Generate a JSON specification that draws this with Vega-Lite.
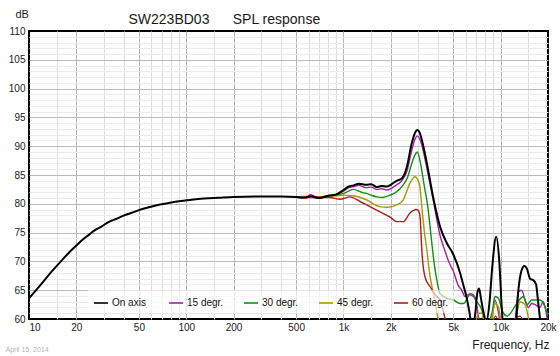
{
  "$schema": "https://vega.github.io/schema/vega-lite/v6.json",
  "width": 519,
  "height": 288,
  "autosize": "none",
  "padding": {"left": 29, "top": 31, "right": 12, "bottom": 37},
  "config": {
    "font": "Liberation Sans",
    "view": {"stroke": "#000000", "strokeWidth": 2}
  },
  "datasets": {
    "spl": [
      {"f":10,"db":63.6,"s":"On axis"},{"f":12,"db":66.1,"s":"On axis"},{"f":14,"db":68.3,"s":"On axis"},{"f":16,"db":70.05,"s":"On axis"},{"f":18,"db":71.55,"s":"On axis"},{"f":20,"db":72.75,"s":"On axis"},{"f":22,"db":73.8,"s":"On axis"},{"f":24,"db":74.6,"s":"On axis"},{"f":26,"db":75.35,"s":"On axis"},{"f":29,"db":76.1,"s":"On axis"},{"f":32,"db":76.8,"s":"On axis"},{"f":36,"db":77.4,"s":"On axis"},{"f":40,"db":77.95,"s":"On axis"},{"f":45,"db":78.45,"s":"On axis"},{"f":50,"db":78.9,"s":"On axis"},{"f":57,"db":79.35,"s":"On axis"},{"f":65,"db":79.75,"s":"On axis"},{"f":76,"db":80.1,"s":"On axis"},{"f":90,"db":80.45,"s":"On axis"},{"f":108,"db":80.7,"s":"On axis"},{"f":130,"db":80.9,"s":"On axis"},{"f":160,"db":81.05,"s":"On axis"},{"f":200,"db":81.2,"s":"On axis"},{"f":300,"db":81.25,"s":"On axis"},{"f":400,"db":81.25,"s":"On axis"},{"f":500,"db":81.2,"s":"On axis"},{"f":560,"db":81.1,"s":"On axis"},{"f":620,"db":81.3,"s":"On axis"},{"f":700,"db":81.0,"s":"On axis"},{"f":800,"db":81.4,"s":"On axis"},{"f":900,"db":81.6,"s":"On axis"},{"f":1000,"db":82.4,"s":"On axis"},{"f":1080,"db":83.0,"s":"On axis"},{"f":1160,"db":83.2,"s":"On axis"},{"f":1250,"db":83.5,"s":"On axis"},{"f":1400,"db":83.3,"s":"On axis"},{"f":1500,"db":83.4,"s":"On axis"},{"f":1630,"db":82.9,"s":"On axis"},{"f":1750,"db":83.1,"s":"On axis"},{"f":1890,"db":83.0,"s":"On axis"},{"f":2050,"db":83.5,"s":"On axis"},{"f":2180,"db":84.0,"s":"On axis"},{"f":2350,"db":84.4,"s":"On axis"},{"f":2530,"db":86.4,"s":"On axis"},{"f":2720,"db":90.5,"s":"On axis"},{"f":2850,"db":92.3,"s":"On axis"},{"f":2950,"db":92.8,"s":"On axis"},{"f":3050,"db":92.4,"s":"On axis"},{"f":3150,"db":91.1,"s":"On axis"},{"f":3390,"db":87.1,"s":"On axis"},{"f":3730,"db":81.0,"s":"On axis"},{"f":4120,"db":76.0,"s":"On axis"},{"f":4540,"db":73.2,"s":"On axis"},{"f":5000,"db":71.2,"s":"On axis"},{"f":5520,"db":68.0,"s":"On axis"},{"f":5800,"db":65.8,"s":"On axis"},{"f":6100,"db":63.5,"s":"On axis"},{"f":6300,"db":61.5,"s":"On axis"},{"f":6600,"db":58.5,"s":"On axis"},{"f":6900,"db":61.0,"s":"On axis"},{"f":7100,"db":64.5,"s":"On axis"},{"f":7290,"db":65.3,"s":"On axis"},{"f":7500,"db":63.5,"s":"On axis"},{"f":7800,"db":61.0,"s":"On axis"},{"f":8100,"db":59.5,"s":"On axis"},{"f":8500,"db":63.0,"s":"On axis"},{"f":8840,"db":69.0,"s":"On axis"},{"f":9360,"db":74.3,"s":"On axis"},{"f":9800,"db":70.0,"s":"On axis"},{"f":10160,"db":62.0,"s":"On axis"},{"f":10500,"db":57.0,"s":"On axis"},{"f":11500,"db":55.0,"s":"On axis"},{"f":12400,"db":58.0,"s":"On axis"},{"f":12960,"db":65.0,"s":"On axis"},{"f":13600,"db":68.5,"s":"On axis"},{"f":14150,"db":69.2,"s":"On axis"},{"f":14700,"db":68.7,"s":"On axis"},{"f":15380,"db":67.0,"s":"On axis"},{"f":16200,"db":66.7,"s":"On axis"},{"f":16800,"db":66.0,"s":"On axis"},{"f":17300,"db":63.0,"s":"On axis"},{"f":18000,"db":59.0,"s":"On axis"},{"f":19000,"db":56.0,"s":"On axis"},{"f":20000,"db":55.0,"s":"On axis"},

      {"f":500,"db":81.2,"s":"15 degr."},{"f":600,"db":81.1,"s":"15 degr."},{"f":700,"db":81.1,"s":"15 degr."},{"f":800,"db":81.4,"s":"15 degr."},{"f":900,"db":81.6,"s":"15 degr."},{"f":1000,"db":82.2,"s":"15 degr."},{"f":1080,"db":82.8,"s":"15 degr."},{"f":1160,"db":83.0,"s":"15 degr."},{"f":1250,"db":83.2,"s":"15 degr."},{"f":1400,"db":82.8,"s":"15 degr."},{"f":1500,"db":82.9,"s":"15 degr."},{"f":1630,"db":82.5,"s":"15 degr."},{"f":1750,"db":82.6,"s":"15 degr."},{"f":1890,"db":82.4,"s":"15 degr."},{"f":2050,"db":82.8,"s":"15 degr."},{"f":2180,"db":83.3,"s":"15 degr."},{"f":2350,"db":84.0,"s":"15 degr."},{"f":2530,"db":85.6,"s":"15 degr."},{"f":2720,"db":89.3,"s":"15 degr."},{"f":2850,"db":91.2,"s":"15 degr."},{"f":2950,"db":91.8,"s":"15 degr."},{"f":3050,"db":91.3,"s":"15 degr."},{"f":3150,"db":90.2,"s":"15 degr."},{"f":3390,"db":86.2,"s":"15 degr."},{"f":3730,"db":80.5,"s":"15 degr."},{"f":4117,"db":74.5,"s":"15 degr."},{"f":4400,"db":72.0,"s":"15 degr."},{"f":4700,"db":69.8,"s":"15 degr."},{"f":5000,"db":68.3,"s":"15 degr."},{"f":5380,"db":65.8,"s":"15 degr."},{"f":5650,"db":65.0,"s":"15 degr."},{"f":5940,"db":63.9,"s":"15 degr."},{"f":6380,"db":64.4,"s":"15 degr."},{"f":6700,"db":64.2,"s":"15 degr."},{"f":7043,"db":62.5,"s":"15 degr."},{"f":7300,"db":59.5,"s":"15 degr."},{"f":8000,"db":57.0,"s":"15 degr."},{"f":8800,"db":60.0,"s":"15 degr."},{"f":9200,"db":63.3,"s":"15 degr."},{"f":9700,"db":61.0,"s":"15 degr."},{"f":10200,"db":57.0,"s":"15 degr."},{"f":12000,"db":57.0,"s":"15 degr."},{"f":12960,"db":64.7,"s":"15 degr."},{"f":13620,"db":65.0,"s":"15 degr."},{"f":14290,"db":63.3,"s":"15 degr."},{"f":15000,"db":62.0,"s":"15 degr."},{"f":15770,"db":62.7,"s":"15 degr."},{"f":16550,"db":62.5,"s":"15 degr."},{"f":17800,"db":62.0,"s":"15 degr."},{"f":18620,"db":63.0,"s":"15 degr."},{"f":19200,"db":62.0,"s":"15 degr."},{"f":20000,"db":59.0,"s":"15 degr."},

      {"f":500,"db":81.2,"s":"30 degr."},{"f":600,"db":81.2,"s":"30 degr."},{"f":700,"db":81.0,"s":"30 degr."},{"f":800,"db":81.3,"s":"30 degr."},{"f":900,"db":81.5,"s":"30 degr."},{"f":1000,"db":81.8,"s":"30 degr."},{"f":1160,"db":82.5,"s":"30 degr."},{"f":1300,"db":82.0,"s":"30 degr."},{"f":1400,"db":81.8,"s":"30 degr."},{"f":1500,"db":81.5,"s":"30 degr."},{"f":1630,"db":81.2,"s":"30 degr."},{"f":1780,"db":81.1,"s":"30 degr."},{"f":1890,"db":81.3,"s":"30 degr."},{"f":2180,"db":82.1,"s":"30 degr."},{"f":2400,"db":83.3,"s":"30 degr."},{"f":2550,"db":84.5,"s":"30 degr."},{"f":2720,"db":87.0,"s":"30 degr."},{"f":2850,"db":88.5,"s":"30 degr."},{"f":2950,"db":89.0,"s":"30 degr."},{"f":3060,"db":87.6,"s":"30 degr."},{"f":3300,"db":82.4,"s":"30 degr."},{"f":3420,"db":80.0,"s":"30 degr."},{"f":3556,"db":76.0,"s":"30 degr."},{"f":3732,"db":70.8,"s":"30 degr."},{"f":3922,"db":66.8,"s":"30 degr."},{"f":4120,"db":64.4,"s":"30 degr."},{"f":4540,"db":63.6,"s":"30 degr."},{"f":5000,"db":63.3,"s":"30 degr."},{"f":5520,"db":62.7,"s":"30 degr."},{"f":5800,"db":62.7,"s":"30 degr."},{"f":6380,"db":64.2,"s":"30 degr."},{"f":6700,"db":63.9,"s":"30 degr."},{"f":7043,"db":63.0,"s":"30 degr."},{"f":7580,"db":61.6,"s":"30 degr."},{"f":8000,"db":59.0,"s":"30 degr."},{"f":8800,"db":61.0,"s":"30 degr."},{"f":9204,"db":63.9,"s":"30 degr."},{"f":9670,"db":63.6,"s":"30 degr."},{"f":10200,"db":61.5,"s":"30 degr."},{"f":11000,"db":60.5,"s":"30 degr."},{"f":12665,"db":62.7,"s":"30 degr."},{"f":13945,"db":63.9,"s":"30 degr."},{"f":14700,"db":62.5,"s":"30 degr."},{"f":15770,"db":63.3,"s":"30 degr."},{"f":17800,"db":63.3,"s":"30 degr."},{"f":19200,"db":62.0,"s":"30 degr."},{"f":20000,"db":60.5,"s":"30 degr."},

      {"f":500,"db":81.2,"s":"45 degr."},{"f":600,"db":81.3,"s":"45 degr."},{"f":700,"db":81.2,"s":"45 degr."},{"f":800,"db":81.3,"s":"45 degr."},{"f":900,"db":81.4,"s":"45 degr."},{"f":1000,"db":81.5,"s":"45 degr."},{"f":1160,"db":81.4,"s":"45 degr."},{"f":1400,"db":80.7,"s":"45 degr."},{"f":1700,"db":79.5,"s":"45 degr."},{"f":1900,"db":79.4,"s":"45 degr."},{"f":2180,"db":79.8,"s":"45 degr."},{"f":2400,"db":80.7,"s":"45 degr."},{"f":2650,"db":83.6,"s":"45 degr."},{"f":2850,"db":84.7,"s":"45 degr."},{"f":3050,"db":83.3,"s":"45 degr."},{"f":3150,"db":79.5,"s":"45 degr."},{"f":3260,"db":75.5,"s":"45 degr."},{"f":3390,"db":72.0,"s":"45 degr."},{"f":3560,"db":67.3,"s":"45 degr."},{"f":3730,"db":64.5,"s":"45 degr."},{"f":3830,"db":62.8,"s":"45 degr."},{"f":4000,"db":60.0,"s":"45 degr."},{"f":4300,"db":57.0,"s":"45 degr."},{"f":5000,"db":55.0,"s":"45 degr."},{"f":6000,"db":57.0,"s":"45 degr."},{"f":6800,"db":59.0,"s":"45 degr."},{"f":7300,"db":61.0,"s":"45 degr."},{"f":7600,"db":61.0,"s":"45 degr."},{"f":8000,"db":58.0,"s":"45 degr."},{"f":8800,"db":60.0,"s":"45 degr."},{"f":9200,"db":62.7,"s":"45 degr."},{"f":9700,"db":62.0,"s":"45 degr."},{"f":10300,"db":58.0,"s":"45 degr."},{"f":12000,"db":58.0,"s":"45 degr."},{"f":13300,"db":63.0,"s":"45 degr."},{"f":14300,"db":62.5,"s":"45 degr."},{"f":15500,"db":59.0,"s":"45 degr."},{"f":20000,"db":58.0,"s":"45 degr."},

      {"f":500,"db":81.1,"s":"60 degr."},{"f":585,"db":81.0,"s":"60 degr."},{"f":613,"db":81.6,"s":"60 degr."},{"f":660,"db":81.3,"s":"60 degr."},{"f":710,"db":81.1,"s":"60 degr."},{"f":822,"db":81.1,"s":"60 degr."},{"f":951,"db":80.8,"s":"60 degr."},{"f":1100,"db":81.2,"s":"60 degr."},{"f":1275,"db":80.4,"s":"60 degr."},{"f":1476,"db":79.5,"s":"60 degr."},{"f":1709,"db":78.6,"s":"60 degr."},{"f":1980,"db":77.7,"s":"60 degr."},{"f":2180,"db":76.9,"s":"60 degr."},{"f":2400,"db":76.9,"s":"60 degr."},{"f":2650,"db":78.4,"s":"60 degr."},{"f":2900,"db":79.0,"s":"60 degr."},{"f":3000,"db":78.8,"s":"60 degr."},{"f":3070,"db":77.8,"s":"60 degr."},{"f":3150,"db":72.0,"s":"60 degr."},{"f":3300,"db":67.3,"s":"60 degr."},{"f":3560,"db":65.6,"s":"60 degr."},{"f":3920,"db":63.9,"s":"60 degr."},{"f":4120,"db":63.3,"s":"60 degr."},{"f":4300,"db":61.5,"s":"60 degr."},{"f":4540,"db":59.0,"s":"60 degr."},{"f":5000,"db":56.0,"s":"60 degr."},{"f":6000,"db":55.0,"s":"60 degr."},{"f":8000,"db":56.0,"s":"60 degr."},{"f":9300,"db":60.5,"s":"60 degr."},{"f":10000,"db":58.0,"s":"60 degr."},{"f":13300,"db":60.5,"s":"60 degr."},{"f":15000,"db":57.0,"s":"60 degr."},{"f":20000,"db":55.0,"s":"60 degr."}
    ]
  },
  "data": {"name": "spl"},
  "layer": [
    {
      "transform": [{"filter": "datum.s != 'On axis'"}],
      "mark": {"type": "line", "clip": true, "interpolate": "monotone", "strokeWidth": 1.4},
      "encoding": {
        "x": {
          "field": "f", "type": "quantitative",
          "scale": {"type": "log", "domain": [10, 20000], "nice": false},
          "axis": {
            "orient": "bottom",
            "values": [15, 30, 40, 60, 70, 80, 90, 150, 300, 400, 600, 700, 800, 900, 1500, 3000, 4000, 6000, 7000, 8000, 9000, 15000],
            "grid": true, "gridColor": "#dedede", "gridWidth": 1,
            "labels": false, "ticks": false, "domain": false,
            "title": "SW223BD03\u00a0\u00a0\u00a0\u00a0\u00a0\u00a0SPL response",
            "titleX": 99, "titleY": -295.7, "titleAlign": "left", "titleBaseline": "alphabetic",
            "titleFontSize": 14, "titleFontWeight": "normal", "titleColor": "#1a1a1a", "titleFont": "Liberation Sans"
          }
        },
        "y": {
          "field": "db", "type": "quantitative",
          "scale": {"domain": [60, 110], "nice": false, "zero": false},
          "axis": {
            "orient": "left",
            "values": [61,62,63,64,66,67,68,69,71,72,73,74,76,77,78,79,81,82,83,84,86,87,88,89,91,92,93,94,96,97,98,99,101,102,103,104,106,107,108,109],
            "grid": true, "gridColor": "#ececec", "gridWidth": 1,
            "labels": false, "ticks": false, "domain": false,
            "title": "April 15, 2014",
            "titleX": -24, "titleY": 320.5, "titleAngle": 0, "titleAlign": "left", "titleBaseline": "alphabetic",
            "titleFontSize": 7, "titleFontWeight": "normal", "titleColor": "#b4b4b4", "titleFont": "Liberation Sans"
          }
        },
        "color": {
          "field": "s", "type": "nominal",
          "scale": {"domain": ["On axis", "15 degr.", "30 degr.", "45 degr.", "60 degr."], "range": ["#000000", "#a61fa6", "#119011", "#a39c00", "#b01c1c"]},
          "legend": {
            "title": null, "orient": "none", "direction": "horizontal", "columns": 5,
            "legendX": 59, "legendY": 259, "padding": 5, "gridAlign": "all", "columnPadding": 16,
            "fillColor": "rgba(255,255,255,0.62)", "strokeColor": null,
            "symbolType": "stroke", "symbolSize": 196, "symbolStrokeWidth": 1.6, "labelOffset": 3,
            "labelFontSize": 10, "labelColor": "#111111", "labelFont": "Liberation Sans"
          }
        }
      }
    },
    {
      "transform": [{"filter": "datum.s == 'On axis'"}],
      "mark": {"type": "line", "clip": true, "interpolate": "monotone", "strokeWidth": 2},
      "encoding": {
        "x": {
          "field": "f", "type": "quantitative",
          "scale": {"type": "log", "domain": [10, 20000], "nice": false},
          "axis": {
            "orient": "bottom",
            "values": [10, 20, 50, 100, 200, 500, 1000, 2000, 5000, 10000, 20000],
            "labelExpr": "datum.value >= 1000 ? (datum.value / 1000) + 'k' : '' + datum.value",
            "grid": true,
            "gridColor": {"condition": {"test": "datum.value == 10 || datum.value == 20000", "value": "transparent"}, "value": "#b4b4b4"},
            "ticks": false, "domain": false, "labelOverlap": false, "labelFlush": false,
            "labelAlign": {"condition": {"test": "datum.value == 10", "value": "left"}, "value": "center"},
            "labelPadding": 3, "labelFontSize": 10, "labelColor": "#222222", "labelFont": "Liberation Sans",
            "title": "Frequency, Hz",
            "titleX": 520, "titleY": 29, "titleAlign": "right", "titleBaseline": "alphabetic",
            "titleFontSize": 12, "titleFontWeight": "normal", "titleColor": "#1a1a1a", "titleFont": "Liberation Sans"
          }
        },
        "y": {
          "field": "db", "type": "quantitative",
          "scale": {"domain": [60, 110], "nice": false, "zero": false},
          "axis": {
            "orient": "left",
            "values": [60, 65, 70, 75, 80, 85, 90, 95, 100, 105, 110],
            "grid": true,
            "gridColor": {"condition": {"test": "datum.value == 60 || datum.value == 110", "value": "transparent"}, "value": "#bcbcbc"},
            "ticks": false, "domain": false, "labelPadding": 4,
            "labelFontSize": 10, "labelColor": "#222222", "labelFont": "Liberation Sans",
            "title": "dB",
            "titleX": -14, "titleY": -14, "titleAngle": 0, "titleAlign": "left", "titleBaseline": "alphabetic",
            "titleFontSize": 11, "titleFontWeight": "normal", "titleColor": "#1a1a1a", "titleFont": "Liberation Sans"
          }
        },
        "color": {
          "field": "s", "type": "nominal",
          "scale": {"domain": ["On axis", "15 degr.", "30 degr.", "45 degr.", "60 degr."], "range": ["#000000", "#a61fa6", "#119011", "#a39c00", "#b01c1c"]},
          "legend": {
            "title": null, "orient": "none", "direction": "horizontal", "columns": 5,
            "legendX": 59, "legendY": 259, "padding": 5, "gridAlign": "all", "columnPadding": 16,
            "fillColor": "rgba(255,255,255,0.62)", "strokeColor": null,
            "symbolType": "stroke", "symbolSize": 196, "symbolStrokeWidth": 1.6, "labelOffset": 3,
            "labelFontSize": 10, "labelColor": "#111111", "labelFont": "Liberation Sans"
          }
        }
      }
    }
  ],
  "resolve": {"axis": {"x": "independent", "y": "independent"}}
}
